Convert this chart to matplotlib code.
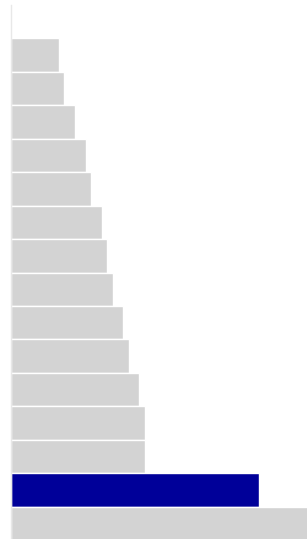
import matplotlib
matplotlib.use("Agg")
import matplotlib.pyplot as plt

categories = ["", "A", "B", "C", "D", "E", "F", "G", "H", "I", "J", "K", "L", "M", "N", "O"]
values = [0, 9, 10, 12, 14, 15, 17, 18, 19, 21, 22, 24, 25, 25, 46.3, 56]
highlight = "N"

gray = "#d3d3d3"
blue = "#000099"
colors = [blue if c == highlight else gray for c in categories]

fig = plt.figure(figsize=(3.07, 5.39), dpi=100)
ax = fig.add_axes([10.5 / 307, -1 / 539, 1 - 10.5 / 307, 1 - 5 / 539 + 1 / 539])
pos = list(range(len(categories)))
ax.barh(pos, values, height=1.0, color=colors, edgecolor="white", linewidth=1)
ax.set_ylim(len(categories) - 0.5, -0.5)
ax.set_xlim(0, 55.2)
for s in ["top", "right", "bottom"]:
    ax.spines[s].set_visible(False)
ax.spines["left"].set_color("#e8e8e8")
ax.spines["left"].set_linewidth(1)
ax.set_xticks([])
ax.set_yticks([])
fig.savefig("out.png", dpi=100)
